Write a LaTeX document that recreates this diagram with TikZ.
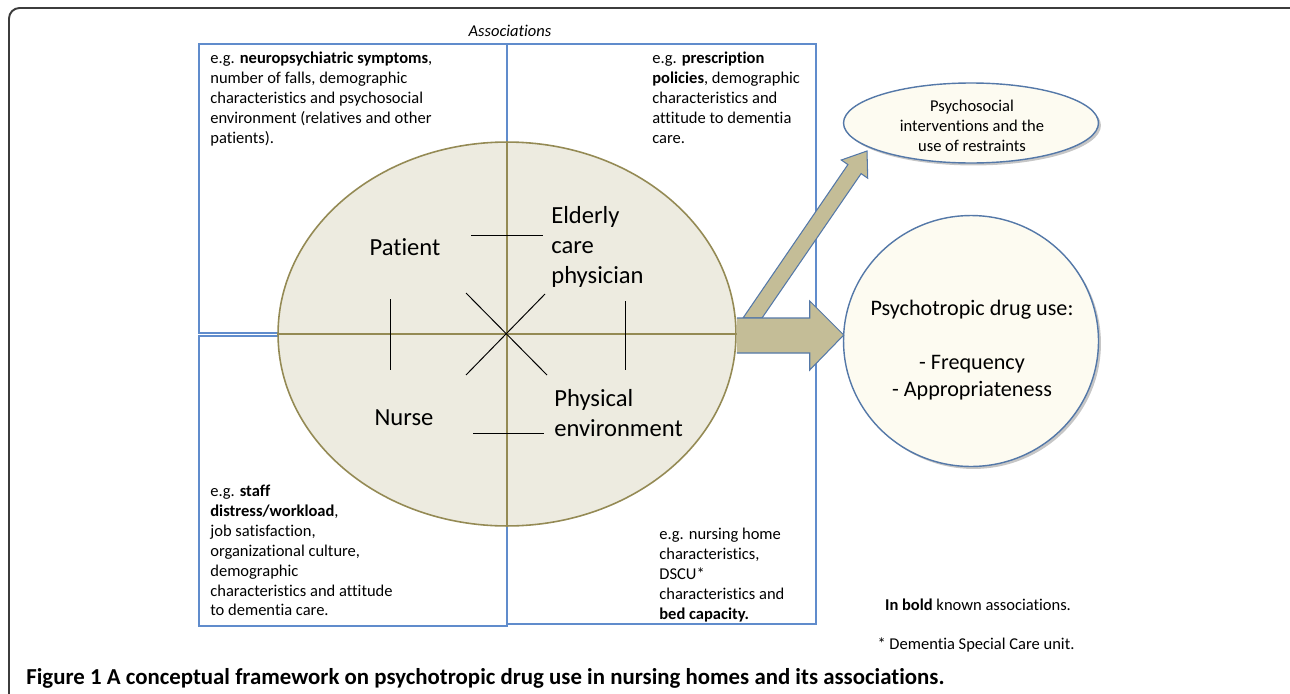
\documentclass[tikz,border=0pt]{standalone}
\usepackage{fontspec}
\setmainfont{Carlito}[Ligatures=NoCommon]
\usetikzlibrary{shapes.geometric,shadows,calc}

\definecolor{boxblue}{RGB}{96,140,204}
\definecolor{rimolive}{RGB}{148,138,84}
\definecolor{carebeige}{RGB}{237,235,224}
\definecolor{arrowtan}{RGB}{196,189,151}
\definecolor{outcomecream}{RGB}{253,251,241}
\definecolor{outcomeblue}{RGB}{84,120,168}
\definecolor{framegray}{RGB}{60,60,60}

\tikzset{
  assoc/.style={anchor=north west, inner sep=0pt, align=left, font=\fontsize{9.4}{11.3}\selectfont},
  actor/.style={inner sep=0pt, align=left, font=\fontsize{14}{17}\selectfont},
  outcome/.style={ellipse, draw=outcomeblue, line width=0.8pt, fill=outcomecream,
    drop shadow={shadow xshift=1.4pt, shadow yshift=-1.4pt, opacity=0.45}},
  boxline/.style={draw=boxblue, line width=0.6pt},
  tie/.style={black, line width=0.55pt},
  fatarrow/.style={fill=arrowtan, draw=outcomeblue, line width=0.6pt, line join=miter},
}

\begin{document}
\begin{tikzpicture}[x=0.02cm,y=-0.02cm]
  \useasboundingbox (0,0) rectangle (1290,693);
  % outer frame
  \draw[framegray, line width=1.1pt, rounded corners=6pt] (9,720) |- (1320,8);

  % association boxes
  \draw[boxline] (199,44) rectangle (507,333);
  \draw[boxline] (199,336) rectangle (507,626);
  \draw[boxline] (507,44) rectangle (816,624);
  \node[inner sep=0pt, font=\fontsize{9.4}{11.3}\selectfont\itshape] (assoctitle) at (510,31) {Associations};

  \node[assoc] (patientassoc) at (210,52) {e.g. \textbf{neuropsychiatric symptoms},\\number of falls, demographic\\characteristics and psychosocial\\environment (relatives and other\\patients).};
  \node[assoc] (physicianassoc) at (652,52) {e.g. \textbf{prescription}\\\textbf{policies}, demographic\\characteristics and\\attitude to dementia\\care.};
  \node[assoc] (nurseassoc) at (210,485) {e.g. \textbf{staff}\\\textbf{distress/workload},\\job satisfaction,\\organizational culture,\\demographic\\characteristics and attitude\\to dementia care.};
  \node[assoc] (envassoc) at (659,528) {e.g. nursing home\\characteristics,\\DSCU*\\characteristics and\\\textbf{bed capacity.}};

  % care ellipse
  \node[ellipse, draw=rimolive, line width=0.9pt, fill=carebeige, minimum width=9.16cm, minimum height=7.68cm, inner sep=0pt] (care) at (507,334) {};
  \draw[rimolive, line width=0.9pt] (care.west) -- (care.east);
  \draw[rimolive, line width=0.9pt] (care.north) -- (care.south);

  \node[actor, anchor=center] (patient) at (405,247) {Patient};
  \node[actor, anchor=west] (physician) at (551,247) {Elderly\\care\\physician};
  \node[actor, anchor=center] (nurse) at (404,418) {Nurse};
  \node[actor, anchor=west] (environment) at (554,413) {Physical\\environment};

  % ties between the actors
  \draw[tie] (471,235) -- (543,235);
  \draw[tie] (473,433) -- (544,433);
  \draw[tie] (390,299) -- (390,370);
  \draw[tie] (625,301) -- (625,370);
  \draw[tie] (466,293) -- (547,375);
  \draw[tie] (545,294) -- (466,375);

  % outcomes
  \node[outcome, minimum width=5.1cm, minimum height=1.6cm] (psychosocial) at (971,123) {};
  \node[inner sep=0pt, align=center, font=\fontsize{9.4}{11.3}\selectfont] (psychosocialtext) at (972,126) {Psychosocial\\interventions and the\\use of restraints};
  \node[outcome, minimum width=5.1cm, minimum height=5.02cm] (drug) at (971,341) {};
  \node[inner sep=0pt, align=center, font=\fontsize{12.6}{15.3}\selectfont] (drugtext) at (972,350) {Psychotropic drug use:\\[15.3pt]- Frequency\\- Appropriateness};

  % arrows
  \draw[fatarrow] (743,318) -- (847.9,164.6) -- (841.3,160.0) -- (867,151)
    -- (867.7,178.2) -- (861.1,173.6) -- (762,318) -- cycle;
  \draw[fatarrow] ($(care.east)+(0,-16)$) -- ++(73,0) -- ++(0,-17) -- ($(care.east)+(107,1)$)
    -- ($(care.east)+(73,36)$) -- ++(0,-17) -- ($(care.east)+(0,19)$);

  % legend and caption
  \node[inner sep=0pt, font=\fontsize{9.4}{11.3}\selectfont] (boldnote) at (978,605) {\textbf{In bold} known associations.};
  \node[inner sep=0pt, font=\fontsize{9.4}{11.3}\selectfont] (dscunote) at (976,645) {* Dementia Special Care unit.};
  \node[inner sep=0pt, anchor=west, font=\fontsize{13}{15}\selectfont\bfseries] (caption) at (26,678) {Figure 1 A conceptual framework on psychotropic drug use in nursing homes and its associations.};
\end{tikzpicture}
\end{document}
